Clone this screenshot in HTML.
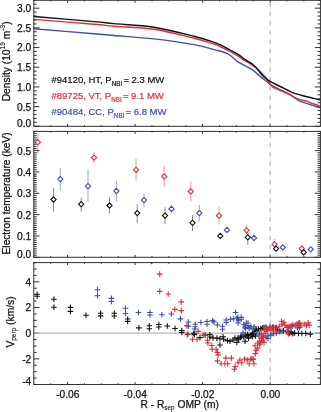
<!DOCTYPE html>
<html><head><meta charset="utf-8"><title>plot</title>
<style>
html,body{margin:0;padding:0;background:#fff;}
body{width:321px;height:412px;overflow:hidden;}
svg{display:block;filter:blur(0.3px);}
text{font-family:"Liberation Sans",sans-serif;}
</style></head>
<body>
<svg width="321" height="412" viewBox="0 0 321 412">
<rect width="321" height="412" fill="#fff"/>
<path d="M33.8 126.3h5.6 M320.4 126.3h-5.6 M33.8 122.36h2.9 M320.4 122.36h-2.9 M33.8 118.42h2.9 M320.4 118.42h-2.9 M33.8 114.49h2.9 M320.4 114.49h-2.9 M33.8 110.55h2.9 M320.4 110.55h-2.9 M33.8 106.61h5.6 M320.4 106.61h-5.6 M33.8 102.67h2.9 M320.4 102.67h-2.9 M33.8 98.74h2.9 M320.4 98.74h-2.9 M33.8 94.8h2.9 M320.4 94.8h-2.9 M33.8 90.86h2.9 M320.4 90.86h-2.9 M33.8 86.92h5.6 M320.4 86.92h-5.6 M33.8 82.99h2.9 M320.4 82.99h-2.9 M33.8 79.05h2.9 M320.4 79.05h-2.9 M33.8 75.11h2.9 M320.4 75.11h-2.9 M33.8 71.17h2.9 M320.4 71.17h-2.9 M33.8 67.24h5.6 M320.4 67.24h-5.6 M33.8 63.3h2.9 M320.4 63.3h-2.9 M33.8 59.36h2.9 M320.4 59.36h-2.9 M33.8 55.42h2.9 M320.4 55.42h-2.9 M33.8 51.49h2.9 M320.4 51.49h-2.9 M33.8 47.55h5.6 M320.4 47.55h-5.6 M33.8 43.61h2.9 M320.4 43.61h-2.9 M33.8 39.67h2.9 M320.4 39.67h-2.9 M33.8 35.74h2.9 M320.4 35.74h-2.9 M33.8 31.8h2.9 M320.4 31.8h-2.9 M33.8 27.86h5.6 M320.4 27.86h-5.6 M33.8 23.92h2.9 M320.4 23.92h-2.9 M33.8 19.99h2.9 M320.4 19.99h-2.9 M33.8 16.05h2.9 M320.4 16.05h-2.9 M33.8 12.11h2.9 M320.4 12.11h-2.9 M33.8 8.17h5.6 M320.4 8.17h-5.6 M33.8 4.24h2.9 M320.4 4.24h-2.9 M33.8 0.3h2.9 M320.4 0.3h-2.9 M33.8 126.3v-1.2 M33.8 0.3v1.2 M50.68 126.3v-1.2 M50.68 0.3v1.2 M67.56 126.3v-2.4 M67.56 0.3v2.4 M84.45 126.3v-1.2 M84.45 0.3v1.2 M101.33 126.3v-1.2 M101.33 0.3v1.2 M118.21 126.3v-1.2 M118.21 0.3v1.2 M135.09 126.3v-2.4 M135.09 0.3v2.4 M151.98 126.3v-1.2 M151.98 0.3v1.2 M168.86 126.3v-1.2 M168.86 0.3v1.2 M185.74 126.3v-1.2 M185.74 0.3v1.2 M202.62 126.3v-2.4 M202.62 0.3v2.4 M219.51 126.3v-1.2 M219.51 0.3v1.2 M236.39 126.3v-1.2 M236.39 0.3v1.2 M253.27 126.3v-1.2 M253.27 0.3v1.2 M270.15 126.3v-2.4 M270.15 0.3v2.4 M287.04 126.3v-1.2 M287.04 0.3v1.2 M303.92 126.3v-1.2 M303.92 0.3v1.2 M320.8 126.3v-1.2 M320.8 0.3v1.2" stroke="#303030" stroke-width="1" fill="none"/>
<path d="M33.8 257.3h5.6 M320.4 257.3h-5.6 M33.8 255.17h2.9 M320.4 255.17h-2.9 M33.8 253.03h2.9 M320.4 253.03h-2.9 M33.8 250.9h2.9 M320.4 250.9h-2.9 M33.8 248.76h2.9 M320.4 248.76h-2.9 M33.8 246.63h2.9 M320.4 246.63h-2.9 M33.8 244.5h2.9 M320.4 244.5h-2.9 M33.8 242.36h2.9 M320.4 242.36h-2.9 M33.8 240.23h2.9 M320.4 240.23h-2.9 M33.8 238.09h2.9 M320.4 238.09h-2.9 M33.8 235.96h5.6 M320.4 235.96h-5.6 M33.8 233.83h2.9 M320.4 233.83h-2.9 M33.8 231.69h2.9 M320.4 231.69h-2.9 M33.8 229.56h2.9 M320.4 229.56h-2.9 M33.8 227.43h2.9 M320.4 227.43h-2.9 M33.8 225.29h2.9 M320.4 225.29h-2.9 M33.8 223.16h2.9 M320.4 223.16h-2.9 M33.8 221.02h2.9 M320.4 221.02h-2.9 M33.8 218.89h2.9 M320.4 218.89h-2.9 M33.8 216.76h2.9 M320.4 216.76h-2.9 M33.8 214.62h5.6 M320.4 214.62h-5.6 M33.8 212.49h2.9 M320.4 212.49h-2.9 M33.8 210.35h2.9 M320.4 210.35h-2.9 M33.8 208.22h2.9 M320.4 208.22h-2.9 M33.8 206.09h2.9 M320.4 206.09h-2.9 M33.8 203.95h2.9 M320.4 203.95h-2.9 M33.8 201.82h2.9 M320.4 201.82h-2.9 M33.8 199.68h2.9 M320.4 199.68h-2.9 M33.8 197.55h2.9 M320.4 197.55h-2.9 M33.8 195.42h2.9 M320.4 195.42h-2.9 M33.8 193.28h5.6 M320.4 193.28h-5.6 M33.8 191.15h2.9 M320.4 191.15h-2.9 M33.8 189.02h2.9 M320.4 189.02h-2.9 M33.8 186.88h2.9 M320.4 186.88h-2.9 M33.8 184.75h2.9 M320.4 184.75h-2.9 M33.8 182.61h2.9 M320.4 182.61h-2.9 M33.8 180.48h2.9 M320.4 180.48h-2.9 M33.8 178.35h2.9 M320.4 178.35h-2.9 M33.8 176.21h2.9 M320.4 176.21h-2.9 M33.8 174.08h2.9 M320.4 174.08h-2.9 M33.8 171.94h5.6 M320.4 171.94h-5.6 M33.8 169.81h2.9 M320.4 169.81h-2.9 M33.8 167.68h2.9 M320.4 167.68h-2.9 M33.8 165.54h2.9 M320.4 165.54h-2.9 M33.8 163.41h2.9 M320.4 163.41h-2.9 M33.8 161.27h2.9 M320.4 161.27h-2.9 M33.8 159.14h2.9 M320.4 159.14h-2.9 M33.8 157.01h2.9 M320.4 157.01h-2.9 M33.8 154.87h2.9 M320.4 154.87h-2.9 M33.8 152.74h2.9 M320.4 152.74h-2.9 M33.8 150.61h5.6 M320.4 150.61h-5.6 M33.8 148.47h2.9 M320.4 148.47h-2.9 M33.8 146.34h2.9 M320.4 146.34h-2.9 M33.8 144.2h2.9 M320.4 144.2h-2.9 M33.8 142.07h2.9 M320.4 142.07h-2.9 M33.8 139.94h2.9 M320.4 139.94h-2.9 M33.8 137.8h2.9 M320.4 137.8h-2.9 M33.8 135.67h2.9 M320.4 135.67h-2.9 M33.8 133.53h2.9 M320.4 133.53h-2.9 M33.8 131.4h2.9 M320.4 131.4h-2.9 M33.8 257.3v-1.2 M33.8 131.4v1.2 M50.68 257.3v-1.2 M50.68 131.4v1.2 M67.56 257.3v-2.4 M67.56 131.4v2.4 M84.45 257.3v-1.2 M84.45 131.4v1.2 M101.33 257.3v-1.2 M101.33 131.4v1.2 M118.21 257.3v-1.2 M118.21 131.4v1.2 M135.09 257.3v-2.4 M135.09 131.4v2.4 M151.98 257.3v-1.2 M151.98 131.4v1.2 M168.86 257.3v-1.2 M168.86 131.4v1.2 M185.74 257.3v-1.2 M185.74 131.4v1.2 M202.62 257.3v-2.4 M202.62 131.4v2.4 M219.51 257.3v-1.2 M219.51 131.4v1.2 M236.39 257.3v-1.2 M236.39 131.4v1.2 M253.27 257.3v-1.2 M253.27 131.4v1.2 M270.15 257.3v-2.4 M270.15 131.4v2.4 M287.04 257.3v-1.2 M287.04 131.4v1.2 M303.92 257.3v-1.2 M303.92 131.4v1.2 M320.8 257.3v-1.2 M320.8 131.4v1.2" stroke="#303030" stroke-width="1" fill="none"/>
<path d="M33.8 384.5h5.6 M320.4 384.5h-5.6 M33.8 378.08h2.9 M320.4 378.08h-2.9 M33.8 371.67h2.9 M320.4 371.67h-2.9 M33.8 365.25h2.9 M320.4 365.25h-2.9 M33.8 358.84h5.6 M320.4 358.84h-5.6 M33.8 352.42h2.9 M320.4 352.42h-2.9 M33.8 346.01h2.9 M320.4 346.01h-2.9 M33.8 339.59h2.9 M320.4 339.59h-2.9 M33.8 333.17h5.6 M320.4 333.17h-5.6 M33.8 326.76h2.9 M320.4 326.76h-2.9 M33.8 320.34h2.9 M320.4 320.34h-2.9 M33.8 313.93h2.9 M320.4 313.93h-2.9 M33.8 307.51h5.6 M320.4 307.51h-5.6 M33.8 301.09h2.9 M320.4 301.09h-2.9 M33.8 294.68h2.9 M320.4 294.68h-2.9 M33.8 288.26h2.9 M320.4 288.26h-2.9 M33.8 281.85h5.6 M320.4 281.85h-5.6 M33.8 275.43h2.9 M320.4 275.43h-2.9 M33.8 269.02h2.9 M320.4 269.02h-2.9 M33.8 262.6h2.9 M320.4 262.6h-2.9 M33.8 384.5v-1.2 M33.8 262.6v1.2 M50.68 384.5v-1.2 M50.68 262.6v1.2 M67.56 384.5v-2.4 M67.56 262.6v2.4 M84.45 384.5v-1.2 M84.45 262.6v1.2 M101.33 384.5v-1.2 M101.33 262.6v1.2 M118.21 384.5v-1.2 M118.21 262.6v1.2 M135.09 384.5v-2.4 M135.09 262.6v2.4 M151.98 384.5v-1.2 M151.98 262.6v1.2 M168.86 384.5v-1.2 M168.86 262.6v1.2 M185.74 384.5v-1.2 M185.74 262.6v1.2 M202.62 384.5v-2.4 M202.62 262.6v2.4 M219.51 384.5v-1.2 M219.51 262.6v1.2 M236.39 384.5v-1.2 M236.39 262.6v1.2 M253.27 384.5v-1.2 M253.27 262.6v1.2 M270.15 384.5v-2.4 M270.15 262.6v2.4 M287.04 384.5v-1.2 M287.04 262.6v1.2 M303.92 384.5v-1.2 M303.92 262.6v1.2 M320.8 384.5v-1.2 M320.8 262.6v1.2" stroke="#303030" stroke-width="1" fill="none"/>
<line x1="270.15" y1="0.3" x2="270.15" y2="126.3" stroke="#a8a8a8" stroke-width="1" stroke-dasharray="4.6 4.7" stroke-dashoffset="-2.0"/>
<line x1="270.15" y1="131.4" x2="270.15" y2="257.3" stroke="#a8a8a8" stroke-width="1" stroke-dasharray="4.6 4.7" stroke-dashoffset="-2.0"/>
<line x1="270.15" y1="262.6" x2="270.15" y2="384.5" stroke="#a8a8a8" stroke-width="1" stroke-dasharray="4.6 4.7" stroke-dashoffset="-2.0"/>
<line x1="33.8" y1="333.17" x2="320.4" y2="333.17" stroke="#b4b4b4" stroke-width="1.2"/>
<path d="M34 28.7C44 29.55 80.67 32.67 94 33.8C107.33 34.93 104 34.65 114 35.5C124 36.35 140.67 37.38 154 38.9C167.33 40.42 184 42.82 194 44.6C204 46.38 209.67 48.53 214 49.6C218.33 50.67 217.75 50.32 220 51C222.25 51.68 225.42 52.67 227.5 53.7C229.58 54.73 230.85 55.9 232.5 57.2C234.15 58.5 235.48 60.17 237.4 61.5C239.32 62.83 241.65 63.92 244 65.2C246.35 66.48 249.27 67.75 251.5 69.2C253.73 70.65 255.65 72.45 257.4 73.9C259.15 75.35 260.5 76.67 262 77.9C263.5 79.13 265.08 80.22 266.4 81.3C267.72 82.38 268.45 83.45 269.9 84.4C271.35 85.35 273.22 86.05 275.1 87C276.98 87.95 278.72 88.87 281.2 90.1C283.68 91.33 287.12 92.67 290 94.4C292.88 96.13 295.6 98.97 298.5 100.5C301.4 102.03 304.8 102.72 307.4 103.6C310 104.48 311.95 105.1 314.1 105.8C316.25 106.5 319.27 107.47 320.3 107.8" fill="none" stroke="#3f4fa3" stroke-width="1.4" stroke-linejoin="round"/>
<path d="M34 19.4C44 20.2 80.67 23.07 94 24.2C107.33 25.33 104 25.35 114 26.2C124 27.05 140.67 27.28 154 29.3C167.33 31.32 184 35.85 194 38.3C204 40.75 209.67 42.63 214 44C218.33 45.37 217.33 45.25 220 46.5C222.67 47.75 226.67 49.68 230 51.5C233.33 53.32 237.67 55.9 240 57.4C242.33 58.9 242.58 59.62 244 60.5C245.42 61.38 247 61.83 248.5 62.7C250 63.57 251.27 64.45 253 65.7C254.73 66.95 257.4 68.9 258.9 70.2C260.4 71.5 260.9 72.37 262 73.5C263.1 74.63 264.33 75.55 265.5 77C266.67 78.45 267.98 80.7 269 82.2C270.02 83.7 270.58 84.98 271.6 86C272.62 87.02 273.5 87.48 275.1 88.3C276.7 89.12 278.72 89.8 281.2 90.9C283.68 92 287.12 93.53 290 94.9C292.88 96.27 295.6 98.03 298.5 99.1C301.4 100.17 305.17 100.58 307.4 101.3C309.63 102.02 310.22 102.75 311.9 103.4C313.58 104.05 316.1 104.6 317.5 105.2C318.9 105.8 319.83 106.7 320.3 107" fill="none" stroke="#d9303a" stroke-width="1.4" stroke-linejoin="round"/>
<path d="M34 16.5C44 17.35 80.67 20.42 94 21.6C107.33 22.78 104 22.67 114 23.6C124 24.53 140.67 25.08 154 27.2C167.33 29.32 184 33.78 194 36.3C204 38.82 209.67 40.9 214 42.3C218.33 43.7 217.33 43.42 220 44.7C222.67 45.98 226.67 48.18 230 50C233.33 51.82 237.67 54.12 240 55.6C242.33 57.08 242.08 57.62 244 58.9C245.92 60.18 249.63 62.02 251.5 63.3C253.37 64.58 253.83 65.12 255.2 66.6C256.57 68.08 258.32 70.55 259.7 72.2C261.08 73.85 262.25 75.27 263.5 76.5C264.75 77.73 266 78.72 267.2 79.6C268.4 80.48 269.38 81.07 270.7 81.8C272.02 82.53 273.35 83.13 275.1 84C276.85 84.87 279.02 85.92 281.2 87C283.38 88.08 286.07 89.47 288.2 90.5C290.33 91.53 291.53 92.32 294 93.2C296.47 94.08 300.02 95 303 95.8C305.98 96.6 309.3 97.37 311.9 98C314.5 98.63 317.2 99.3 318.6 99.6C320 99.9 320.02 99.77 320.3 99.8" fill="none" stroke="#111111" stroke-width="1.4" stroke-linejoin="round"/>
<line x1="60.3" y1="168" x2="60.3" y2="190.6" stroke="#3f4fa3" stroke-width="1" stroke-opacity="0.5"/>
<path d="M57.7 179.1l2.6 -2.6l2.6 2.6l-2.6 2.6z" fill="#fff" stroke="#3f4fa3" stroke-width="1.1"/>
<line x1="88" y1="170" x2="88" y2="202" stroke="#3f4fa3" stroke-width="1" stroke-opacity="0.5"/>
<path d="M85.4 186.2l2.6 -2.6l2.6 2.6l-2.6 2.6z" fill="#fff" stroke="#3f4fa3" stroke-width="1.1"/>
<line x1="116.4" y1="180.8" x2="116.4" y2="201.7" stroke="#3f4fa3" stroke-width="1" stroke-opacity="0.5"/>
<path d="M113.8 191l2.6 -2.6l2.6 2.6l-2.6 2.6z" fill="#fff" stroke="#3f4fa3" stroke-width="1.1"/>
<line x1="144" y1="193.1" x2="144" y2="207.5" stroke="#3f4fa3" stroke-width="1" stroke-opacity="0.5"/>
<path d="M141.4 200.1l2.6 -2.6l2.6 2.6l-2.6 2.6z" fill="#fff" stroke="#3f4fa3" stroke-width="1.1"/>
<line x1="171.5" y1="204.8" x2="171.5" y2="213.1" stroke="#3f4fa3" stroke-width="1" stroke-opacity="0.5"/>
<path d="M168.9 208.9l2.6 -2.6l2.6 2.6l-2.6 2.6z" fill="#fff" stroke="#3f4fa3" stroke-width="1.1"/>
<line x1="199.3" y1="205" x2="199.3" y2="221.5" stroke="#3f4fa3" stroke-width="1" stroke-opacity="0.5"/>
<path d="M196.7 213.1l2.6 -2.6l2.6 2.6l-2.6 2.6z" fill="#fff" stroke="#3f4fa3" stroke-width="1.1"/>
<path d="M224.3 229.9l2.6 -2.6l2.6 2.6l-2.6 2.6z" fill="#fff" stroke="#3f4fa3" stroke-width="1.1"/>
<path d="M251.4 238l2.6 -2.6l2.6 2.6l-2.6 2.6z" fill="#fff" stroke="#3f4fa3" stroke-width="1.1"/>
<path d="M280.2 247.4l2.6 -2.6l2.6 2.6l-2.6 2.6z" fill="#fff" stroke="#3f4fa3" stroke-width="1.1"/>
<path d="M308.1 249.3l2.6 -2.6l2.6 2.6l-2.6 2.6z" fill="#fff" stroke="#3f4fa3" stroke-width="1.1"/>
<line x1="37.8" y1="133" x2="37.8" y2="154" stroke="#d9303a" stroke-width="1" stroke-opacity="0.5"/>
<path d="M35.2 142.2l2.6 -2.6l2.6 2.6l-2.6 2.6z" fill="#fff" stroke="#d9303a" stroke-width="1.1"/>
<line x1="94" y1="152" x2="94" y2="163" stroke="#d9303a" stroke-width="1" stroke-opacity="0.5"/>
<path d="M91.4 157.6l2.6 -2.6l2.6 2.6l-2.6 2.6z" fill="#fff" stroke="#d9303a" stroke-width="1.1"/>
<line x1="136" y1="158.7" x2="136" y2="180.7" stroke="#d9303a" stroke-width="1" stroke-opacity="0.5"/>
<path d="M133.4 169.8l2.6 -2.6l2.6 2.6l-2.6 2.6z" fill="#fff" stroke="#d9303a" stroke-width="1.1"/>
<line x1="164.2" y1="166" x2="164.2" y2="186.9" stroke="#d9303a" stroke-width="1" stroke-opacity="0.5"/>
<path d="M161.6 176.4l2.6 -2.6l2.6 2.6l-2.6 2.6z" fill="#fff" stroke="#d9303a" stroke-width="1.1"/>
<line x1="190.8" y1="181.3" x2="190.8" y2="201" stroke="#d9303a" stroke-width="1" stroke-opacity="0.5"/>
<path d="M188.2 191.4l2.6 -2.6l2.6 2.6l-2.6 2.6z" fill="#fff" stroke="#d9303a" stroke-width="1.1"/>
<line x1="219" y1="206.8" x2="219" y2="224.7" stroke="#d9303a" stroke-width="1" stroke-opacity="0.5"/>
<path d="M216.4 215.7l2.6 -2.6l2.6 2.6l-2.6 2.6z" fill="#fff" stroke="#d9303a" stroke-width="1.1"/>
<line x1="246.5" y1="225" x2="246.5" y2="233.4" stroke="#d9303a" stroke-width="1" stroke-opacity="0.5"/>
<path d="M243.9 230.3l2.6 -2.6l2.6 2.6l-2.6 2.6z" fill="#fff" stroke="#d9303a" stroke-width="1.1"/>
<line x1="274.5" y1="239" x2="274.5" y2="246" stroke="#d9303a" stroke-width="1" stroke-opacity="0.5"/>
<path d="M271.9 244.3l2.6 -2.6l2.6 2.6l-2.6 2.6z" fill="#fff" stroke="#d9303a" stroke-width="1.1"/>
<path d="M299.2 248.6l2.6 -2.6l2.6 2.6l-2.6 2.6z" fill="#fff" stroke="#d9303a" stroke-width="1.1"/>
<line x1="53.5" y1="188.1" x2="53.5" y2="211.6" stroke="#111111" stroke-width="1" stroke-opacity="0.5"/>
<path d="M50.9 199.5l2.6 -2.6l2.6 2.6l-2.6 2.6z" fill="#fff" stroke="#111111" stroke-width="1.1"/>
<line x1="81.2" y1="197.5" x2="81.2" y2="211.5" stroke="#111111" stroke-width="1" stroke-opacity="0.5"/>
<path d="M78.6 204.2l2.6 -2.6l2.6 2.6l-2.6 2.6z" fill="#fff" stroke="#111111" stroke-width="1.1"/>
<line x1="109.5" y1="197.5" x2="109.5" y2="213.4" stroke="#111111" stroke-width="1" stroke-opacity="0.5"/>
<path d="M106.9 205.5l2.6 -2.6l2.6 2.6l-2.6 2.6z" fill="#fff" stroke="#111111" stroke-width="1.1"/>
<line x1="137.2" y1="204.4" x2="137.2" y2="222.8" stroke="#111111" stroke-width="1" stroke-opacity="0.5"/>
<path d="M134.6 213.1l2.6 -2.6l2.6 2.6l-2.6 2.6z" fill="#fff" stroke="#111111" stroke-width="1.1"/>
<line x1="165" y1="207.3" x2="165" y2="224.2" stroke="#111111" stroke-width="1" stroke-opacity="0.5"/>
<path d="M162.4 215.6l2.6 -2.6l2.6 2.6l-2.6 2.6z" fill="#fff" stroke="#111111" stroke-width="1.1"/>
<line x1="192.5" y1="215" x2="192.5" y2="231.2" stroke="#111111" stroke-width="1" stroke-opacity="0.5"/>
<path d="M189.9 222.8l2.6 -2.6l2.6 2.6l-2.6 2.6z" fill="#fff" stroke="#111111" stroke-width="1.1"/>
<path d="M217.7 235.9l2.6 -2.6l2.6 2.6l-2.6 2.6z" fill="#fff" stroke="#111111" stroke-width="1.1"/>
<line x1="247.8" y1="232.4" x2="247.8" y2="245" stroke="#111111" stroke-width="1" stroke-opacity="0.5"/>
<path d="M245.2 237.3l2.6 -2.6l2.6 2.6l-2.6 2.6z" fill="#fff" stroke="#111111" stroke-width="1.1"/>
<path d="M273.5 248.6l2.6 -2.6l2.6 2.6l-2.6 2.6z" fill="#fff" stroke="#111111" stroke-width="1.1"/>
<path d="M301.1 252.4l2.6 -2.6l2.6 2.6l-2.6 2.6z" fill="#fff" stroke="#111111" stroke-width="1.1"/>
<path d="M34.2 174.2l0.9 1.1l-0.9 1.1" fill="none" stroke="#3f4fa3" stroke-width="1.1"/>
<path d="M34.2 294.3h5.6M37 291.5v5.6 M34.4 296.3h5.6M37.2 293.5v5.6 M51.1 299.3h5.6M53.9 296.5v5.6 M51.1 307.2h5.6M53.9 304.4v5.6 M67.6 307.4h5.6M70.4 304.6v5.6 M67.6 311.4h5.6M70.4 308.6v5.6 M83.2 315.3h5.6M86 312.5v5.6 M97.8 313.3h5.6M100.6 310.5v5.6 M97.8 315.9h5.6M100.6 313.1v5.6 M111.5 313.3h5.6M114.3 310.5v5.6 M111.5 316h5.6M114.3 313.2v5.6 M124.9 319h5.6M127.7 316.2v5.6 M124.9 321.4h5.6M127.7 318.6v5.6 M136.1 327.9h5.6M138.9 325.1v5.6 M146.5 325.8h5.6M149.3 323v5.6 M146.5 328.7h5.6M149.3 325.9v5.6 M156 324.5h5.6M158.8 321.7v5.6 M156 327h5.6M158.8 324.2v5.6 M164.5 326h5.6M167.3 323.2v5.6 M172.2 328.5h5.6M175 325.7v5.6 M179 330.5h5.6M181.8 327.7v5.6 M179 332.4h5.6M181.8 329.6v5.6 M185 334.2h5.6M187.8 331.4v5.6 M191 333.2h5.6M193.8 330.4v5.6 M191.5 334.6h5.6M194.3 331.8v5.6 M197.2 337.6h5.6M200 334.8v5.6 M202.3 335.1h5.6M205.1 332.3v5.6 M207 334.6h5.6M209.8 331.8v5.6 M207 337h5.6M209.8 334.2v5.6 M210.2 337.9h5.6M213 335.1v5.6 M214.1 338.1h5.6M216.9 335.3v5.6 M217.2 338.7h5.6M220 335.9v5.6 M217.2 345h5.6M220 342.2v5.6 M220.3 336.8h5.6M223.1 334v5.6 M220.9 339.3h5.6M223.7 336.5v5.6 M224.7 340.6h5.6M227.5 337.8v5.6 M227.2 341.2h5.6M230 338.4v5.6 M230.2 340h5.6M233 337.2v5.6 M232.2 338.1h5.6M235 335.3v5.6 M234 342.4h5.6M236.8 339.6v5.6 M235.9 339.3h5.6M238.7 336.5v5.6 M237.7 337.5h5.6M240.5 334.7v5.6 M240.9 336.8h5.6M243.7 334v5.6 M242.2 341.2h5.6M245 338.4v5.6 M244.6 335.6h5.6M247.4 332.8v5.6 M245.8 338.1h5.6M248.6 335.3v5.6 M248.3 335h5.6M251.1 332.2v5.6 M250.8 334.3h5.6M253.6 331.5v5.6 M249.6 336.8h5.6M252.4 334v5.6 M235.1 337.9h5.6M237.9 335.1v5.6 M238.8 336h5.6M241.6 333.2v5.6 M242.5 335.1h5.6M245.3 332.3v5.6 M244.9 334.2h5.6M247.7 331.4v5.6 M249.6 333.2h5.6M252.4 330.4v5.6 M251.9 331.4h5.6M254.7 328.6v5.6 M253.8 330.4h5.6M256.6 327.6v5.6 M255.6 329h5.6M258.4 326.2v5.6 M258 328.6h5.6M260.8 325.8v5.6 M259.8 328h5.6M262.6 325.2v5.6 M261.2 327.6h5.6M264 324.8v5.6 M253.1 329h5.6M255.9 326.2v5.6 M263.3 327.4h5.6M266.1 324.6v5.6 M267.1 327.2h5.6M269.9 324.4v5.6 M269.9 327.5h5.6M272.7 324.7v5.6 M272.5 327.8h5.6M275.3 325v5.6 M252.6 336h5.6M255.4 333.2v5.6 M274.7 329.5h5.6M277.5 326.7v5.6 M277.2 331h5.6M280 328.2v5.6 M280.6 330.7h5.6M283.4 327.9v5.6 M285.1 331.9h5.6M287.9 329.1v5.6 M288.4 332.4h5.6M291.2 329.6v5.6 M291.8 333h5.6M294.6 330.2v5.6 M295.7 333.5h5.6M298.5 330.7v5.6 M299.1 333.5h5.6M301.9 330.7v5.6 M303 333.5h5.6M305.8 330.7v5.6 M307.5 334.1h5.6M310.3 331.3v5.6 M286.5 333.1h5.6M289.3 330.3v5.6 M290 333.8h5.6M292.8 331v5.6" stroke="#111111" stroke-width="1.1" fill="none"/>
<path d="M94.7 289.7h5.6M97.5 286.9v5.6 M94.7 295.8h5.6M97.5 293v5.6 M108.6 298.4h5.6M111.4 295.6v5.6 M108.6 301.4h5.6M111.4 298.6v5.6 M122.7 308.3h5.6M125.5 305.5v5.6 M122.7 313.5h5.6M125.5 310.7v5.6 M135.6 312.5h5.6M138.4 309.7v5.6 M147.2 312.5h5.6M150 309.7v5.6 M147.2 315h5.6M150 312.2v5.6 M159.1 314.7h5.6M161.9 311.9v5.6 M168.6 314h5.6M171.4 311.2v5.6 M177.7 318.9h5.6M180.5 316.1v5.6 M185.5 322h5.6M188.3 319.2v5.6 M185.5 326.2h5.6M188.3 323.4v5.6 M192.5 324.3h5.6M195.3 321.5v5.6 M192.5 326.7h5.6M195.3 323.9v5.6 M192 329h5.6M194.8 326.2v5.6 M198.1 322.5h5.6M200.9 319.7v5.6 M204.2 321.5h5.6M207 318.7v5.6 M204.2 324.3h5.6M207 321.5v5.6 M209.8 320.6h5.6M212.6 317.8v5.6 M211.2 322h5.6M214 319.2v5.6 M214.6 325h5.6M217.4 322.2v5.6 M219.7 326.2h5.6M222.5 323.4v5.6 M219.7 329.3h5.6M222.5 326.5v5.6 M223.4 320h5.6M226.2 317.2v5.6 M223.4 322.4h5.6M226.2 319.6v5.6 M227.8 319.3h5.6M230.6 316.5v5.6 M230.9 318.7h5.6M233.7 315.9v5.6 M232.8 312.5h5.6M235.6 309.7v5.6 M234 318.7h5.6M236.8 315.9v5.6 M235.2 323h5.6M238 320.2v5.6 M238.4 317.4h5.6M241.2 314.6v5.6 M238.4 319.3h5.6M241.2 316.5v5.6 M240.9 324.3h5.6M243.7 321.5v5.6 M245.2 323h5.6M248 320.2v5.6 M245.2 325.5h5.6M248 322.7v5.6 M242.7 328.7h5.6M245.5 325.9v5.6 M248.2 326.8h5.6M251 324v5.6 M250.2 329.3h5.6M253 326.5v5.6 M240.2 333h5.6M243 330.2v5.6 M235.1 317.3h5.6M237.9 314.5v5.6 M236 320.1h5.6M238.8 317.3v5.6 M243.5 323h5.6M246.3 320.2v5.6 M242.1 327.1h5.6M244.9 324.3v5.6 M246.3 328.1h5.6M249.1 325.3v5.6 M240.2 334.6h5.6M243 331.8v5.6 M253.8 333.2h5.6M256.6 330.4v5.6 M256.1 336h5.6M258.9 333.2v5.6 M251.2 326.7h5.6M254 323.9v5.6 M256.8 333.7h5.6M259.6 330.9v5.6 M260.5 336h5.6M263.3 333.2v5.6 M263.2 337.5h5.6M266 334.7v5.6 M265.2 336h5.6M268 333.2v5.6 M268 335.1h5.6M270.8 332.3v5.6 M270.8 333.7h5.6M273.6 330.9v5.6 M273.6 333.2h5.6M276.4 330.4v5.6 M276.4 331.8h5.6M279.2 329v5.6 M279.2 331.3h5.6M282 328.5v5.6 M265.2 338.5h5.6M268 335.7v5.6 M285.1 327.4h5.6M287.9 324.6v5.6 M287.3 327.9h5.6M290.1 325.1v5.6 M294.6 327.9h5.6M297.4 325.1v5.6 M296.9 327.4h5.6M299.7 324.6v5.6 M289.2 326.5h5.6M292 323.7v5.6 M295.6 323.3h5.6M298.4 320.5v5.6" stroke="#3f4fa3" stroke-width="1.1" fill="none"/>
<path d="M156.9 274.1h5.6M159.7 271.3v5.6 M156.9 291.4h5.6M159.7 288.6v5.6 M165.4 294h5.6M168.2 291.2v5.6 M178.4 301.9h5.6M181.2 299.1v5.6 M178.5 310.6h5.6M181.3 307.8v5.6 M172 309.4h5.6M174.8 306.6v5.6 M184.1 325.6h5.6M186.9 322.8v5.6 M184.5 334.8h5.6M187.3 332v5.6 M189.7 339.3h5.6M192.5 336.5v5.6 M194.3 339.3h5.6M197.1 336.5v5.6 M195.3 331.4h5.6M198.1 328.6v5.6 M200.4 335.1h5.6M203.2 332.3v5.6 M204.6 340.2h5.6M207.4 337.4v5.6 M205.1 343h5.6M207.9 340.2v5.6 M209 345.5h5.6M211.8 342.7v5.6 M209.3 349.3h5.6M212.1 346.5v5.6 M213.3 349.3h5.6M216.1 346.5v5.6 M214.6 352.4h5.6M217.4 349.6v5.6 M215.3 354.9h5.6M218.1 352.1v5.6 M214.6 360.9h5.6M217.4 358.1v5.6 M218.4 363.7h5.6M221.2 360.9v5.6 M222.1 363.7h5.6M224.9 360.9v5.6 M224.9 363.7h5.6M227.7 360.9v5.6 M223 358.1h5.6M225.8 355.3v5.6 M228.6 358.1h5.6M231.4 355.3v5.6 M232.4 366.5h5.6M235.2 363.7v5.6 M231.5 369.3h5.6M234.3 366.5v5.6 M235.2 362.8h5.6M238 360v5.6 M237.1 360h5.6M239.9 357.2v5.6 M238.9 362.8h5.6M241.7 360v5.6 M241.7 359h5.6M244.5 356.2v5.6 M244.5 360h5.6M247.3 357.2v5.6 M246.4 363.7h5.6M249.2 360.9v5.6 M249.2 359h5.6M252 356.2v5.6 M251.1 363.7h5.6M253.9 360.9v5.6 M247.9 359h5.6M250.7 356.2v5.6 M250.6 359.4h5.6M253.4 356.6v5.6 M252.5 353.6h5.6M255.3 350.8v5.6 M253.3 350.1h5.6M256.1 347.3v5.6 M254.9 348.1h5.6M257.7 345.3v5.6 M252.2 345.8h5.6M255 343v5.6 M256.8 344.2h5.6M259.6 341.4v5.6 M257.6 342.7h5.6M260.4 339.9v5.6 M259.2 340.7h5.6M262 337.9v5.6 M254.9 343h5.6M257.7 340.2v5.6 M256.8 341.2h5.6M259.6 338.4v5.6 M258.7 338.4h5.6M261.5 335.6v5.6 M260.5 336h5.6M263.3 333.2v5.6 M258.7 334.1h5.6M261.5 331.3v5.6 M262.4 333.7h5.6M265.2 330.9v5.6 M264.3 331.3h5.6M267.1 328.5v5.6 M265.2 328.5h5.6M268 325.7v5.6 M268 327.6h5.6M270.8 324.8v5.6 M270.8 327.1h5.6M273.6 324.3v5.6 M273.6 327.6h5.6M276.4 324.8v5.6 M276.4 326.2h5.6M279.2 323.4v5.6 M279.2 324.3h5.6M282 321.5v5.6 M262.4 327.6h5.6M265.2 324.8v5.6 M261.2 330h5.6M264 327.2v5.6 M260.3 337.4h5.6M263.1 334.6v5.6 M261.2 342.1h5.6M264 339.3v5.6 M263.7 329.5h5.6M266.5 326.7v5.6 M269.2 330.5h5.6M272 327.7v5.6 M273.2 331h5.6M276 328.2v5.6 M278.8 321.2h5.6M281.6 318.4v5.6 M281.1 322.3h5.6M283.9 319.5v5.6 M282.2 325.1h5.6M285 322.3v5.6 M283.9 327.4h5.6M286.7 324.6v5.6 M286.2 326.2h5.6M289 323.4v5.6 M288.4 325.7h5.6M291.2 322.9v5.6 M290.1 324.6h5.6M292.9 321.8v5.6 M292.4 325.1h5.6M295.2 322.3v5.6 M294.1 324h5.6M296.9 321.2v5.6 M295.2 325.7h5.6M298 322.9v5.6 M296.9 322.9h5.6M299.7 320.1v5.6 M298 325.7h5.6M300.8 322.9v5.6 M301.4 324h5.6M304.2 321.2v5.6 M303.6 325.7h5.6M306.4 322.9v5.6 M305.3 322.9h5.6M308.1 320.1v5.6 M306.4 325.1h5.6M309.2 322.3v5.6 M284.8 332h5.6M287.6 329.2v5.6 M285.6 334h5.6M288.4 331.2v5.6" stroke="#d9303a" stroke-width="1.1" fill="none"/>
<line x1="151.4" y1="262.6" x2="151.4" y2="264.2" stroke="#d9303a" stroke-width="1.1"/>
<rect x="33.8" y="0.3" width="286.6" height="126" fill="none" stroke="#303030" stroke-width="1"/>
<rect x="33.8" y="131.4" width="286.6" height="125.9" fill="none" stroke="#303030" stroke-width="1"/>
<rect x="33.8" y="262.6" width="286.6" height="121.9" fill="none" stroke="#303030" stroke-width="1"/>
<g font-size="10.2" fill="#111" stroke="#111" stroke-width="0.25">
<text x="31.2" y="126.8" text-anchor="end">0.0</text>
<text x="31.2" y="110.51" text-anchor="end">0.5</text>
<text x="31.2" y="90.83" text-anchor="end">1.0</text>
<text x="31.2" y="71.14" text-anchor="end">1.5</text>
<text x="31.2" y="51.45" text-anchor="end">2.0</text>
<text x="31.2" y="31.76" text-anchor="end">2.5</text>
<text x="31.2" y="12.07" text-anchor="end">3.0</text>
<text x="31.2" y="257.8" text-anchor="end">0.0</text>
<text x="31.2" y="239.86" text-anchor="end">0.1</text>
<text x="31.2" y="218.52" text-anchor="end">0.2</text>
<text x="31.2" y="197.18" text-anchor="end">0.3</text>
<text x="31.2" y="175.84" text-anchor="end">0.4</text>
<text x="31.2" y="154.51" text-anchor="end">0.5</text>
<text x="31.2" y="385" text-anchor="end">-4</text>
<text x="31.2" y="362.74" text-anchor="end">-2</text>
<text x="31.2" y="337.07" text-anchor="end">0</text>
<text x="31.2" y="311.41" text-anchor="end">2</text>
<text x="31.2" y="285.75" text-anchor="end">4</text>
<text x="67.76" y="397.9" text-anchor="middle">-0.06</text>
<text x="135.29" y="397.9" text-anchor="middle">-0.04</text>
<text x="202.82" y="397.9" text-anchor="middle">-0.02</text>
<text x="270.35" y="397.9" text-anchor="middle">0.00</text>
<text x="140.4" y="407.8" font-size="10.25">R - R<tspan font-size="6.4" dy="2.3" stroke-width="0.1">sep</tspan><tspan dy="-2.3"> OMP (m)</tspan></text>
<text font-size="10.25" transform="translate(9.5 101.3) rotate(-90)">Density (10<tspan font-size="6.6" dy="-4.3" stroke-width="0.1">19</tspan><tspan dy="4.3"> m</tspan><tspan font-size="6.6" dy="-4.3" stroke-width="0.1">-3</tspan><tspan dy="4.3">)</tspan></text>
<text font-size="10.17" transform="translate(9.6 254.4) rotate(-90)">Electron temperature (keV)</text>
<text font-size="10.25" transform="translate(13.8 347.6) rotate(-90)">V<tspan font-size="6.5" dy="2.6" stroke-width="0.1">perp</tspan><tspan dy="-2.6"> (km/s)</tspan></text>
</g>
<g font-size="9.5">
<text x="51.5" y="82.8" fill="#111111" stroke="#111111" stroke-width="0.2">#94120, HT, P<tspan font-size="6.3" dy="2.7">NBI</tspan><tspan dy="-2.7" dx="1.2">= 2.3 MW</tspan></text>
<text x="51.5" y="98.8" fill="#d9303a" stroke="#d9303a" stroke-width="0.2">#89725, VT, P<tspan font-size="6.3" dy="2.7">NBI</tspan><tspan dy="-2.7" dx="1.2">= 9.1 MW</tspan></text>
<text x="51.5" y="114.8" fill="#3f4fa3" stroke="#3f4fa3" stroke-width="0.2">#90484, CC, P<tspan font-size="6.3" dy="2.7">NBI</tspan><tspan dy="-2.7" dx="1.2">= 6.8 MW</tspan></text>
</g>
</svg>
</body></html>
